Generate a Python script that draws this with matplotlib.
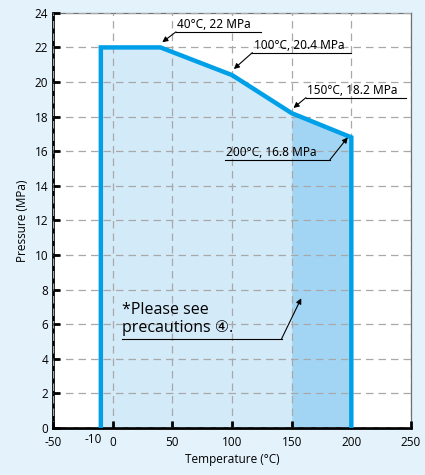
import numpy as np
import matplotlib.pyplot as plt

# rating curve (temperature in degC, pressure in MPa)
temp = [-10, -10, 40, 100, 150, 200, 200]
pres = [0, 22, 22, 20.4, 18.2, 16.8, 0]
xticks = [-50, 0, 50, 100, 150, 200, 250]
yticks = list(range(0, 25, 2))
notes = ["40°C, 22 MPa", "100°C, 20.4 MPa", "150°C, 18.2 MPa", "200°C, 16.8 MPa"]

plt.rcParams['font.family'] = ['Open Sans', 'DejaVu Sans']
plt.rcParams['axes.unicode_minus'] = False

fig = plt.figure(figsize=(4.25, 4.75), dpi=100)
fig.patch.set_facecolor('#e4f2fb')
ax = fig.add_axes([0.125, 0.099, 0.842, 0.874])
ax.set_facecolor('white')

# fills
t = np.array(temp)
p = np.array(pres)
ax.fill_between(t[:6], p[:6], color='#d3eaf9', zorder=1, lw=0)
ax.fill_between([150, 200], [18.2, 16.8], color='#a2d5f4', zorder=1, lw=0)
ax.plot(temp, pres, color='#00a0e9', lw=3.2, zorder=4, solid_joinstyle='miter')

ax.set_xlim(-50, 250)
ax.set_ylim(0, 24)
ax.set_xticks(xticks)
ax.set_yticks(yticks)
ax.tick_params(direction='in', length=5, width=2, labelsize=8.5, color='black')
ax.tick_params(axis='x', pad=6)
ax.grid(True, ls=(0, (6, 4)), color='#a8a8a8', lw=0.9, zorder=2)
ax.set_axisbelow(False)
for s in ['left', 'bottom']:
    ax.spines[s].set_linewidth(2)
    ax.spines[s].set_color('black')
for s in ['top', 'right']:
    ax.spines[s].set_linewidth(0.9)
    ax.spines[s].set_color('#707070')
ax.text(-9, -0.3, '-10', ha='right', va='top', fontsize=8.5)

ax.set_xlabel('Temperature (°C)', fontsize=8.5, labelpad=3)
ax.set_ylabel('Pressure (MPa)', fontsize=8.5, labelpad=4)


def label(txt, x0, x1, y, tip, tail_left=True):
    ax.plot([x0, x1], [y, y], color='black', lw=0.8, zorder=5, clip_on=False)
    ax.text(x0 + 1, y + 0.05, txt, fontsize=8.5, ha='left', va='bottom',
            family=['Noto Sans', 'DejaVu Sans'], zorder=6)
    start = (x0, y) if tail_left else (x1, y)
    ax.annotate('', xy=tip, xytext=start, zorder=6,
                arrowprops=dict(arrowstyle='-|>', color='black', lw=0.8,
                                mutation_scale=8, shrinkA=0, shrinkB=0))


label(notes[0], 53, 124, 22.9, (41.5, 22.3))
label(notes[1], 117, 200, 21.7, (101.5, 20.75))
label(notes[2], 162, 246, 19.1, (151.5, 18.5))
label(notes[3], 94, 182, 15.5, (197, 16.8), tail_left=False)

ax.text(7.5, 6.3, '*Please see\nprecautions ④.', fontsize=11.5, ha='left',
        va='center', linespacing=1.2, family=['Open Sans', 'DejaVu Sans'], zorder=6)
ax.plot([7.5, 141.5], [5.15, 5.15], color='black', lw=0.8, zorder=5)
ax.annotate('', xy=(158, 7.5), xytext=(141.5, 5.15), zorder=6,
            arrowprops=dict(arrowstyle='-|>', color='black', lw=0.8,
                            mutation_scale=8, shrinkA=0, shrinkB=0))

fig.savefig('out.png', dpi=100, facecolor=fig.get_facecolor())
